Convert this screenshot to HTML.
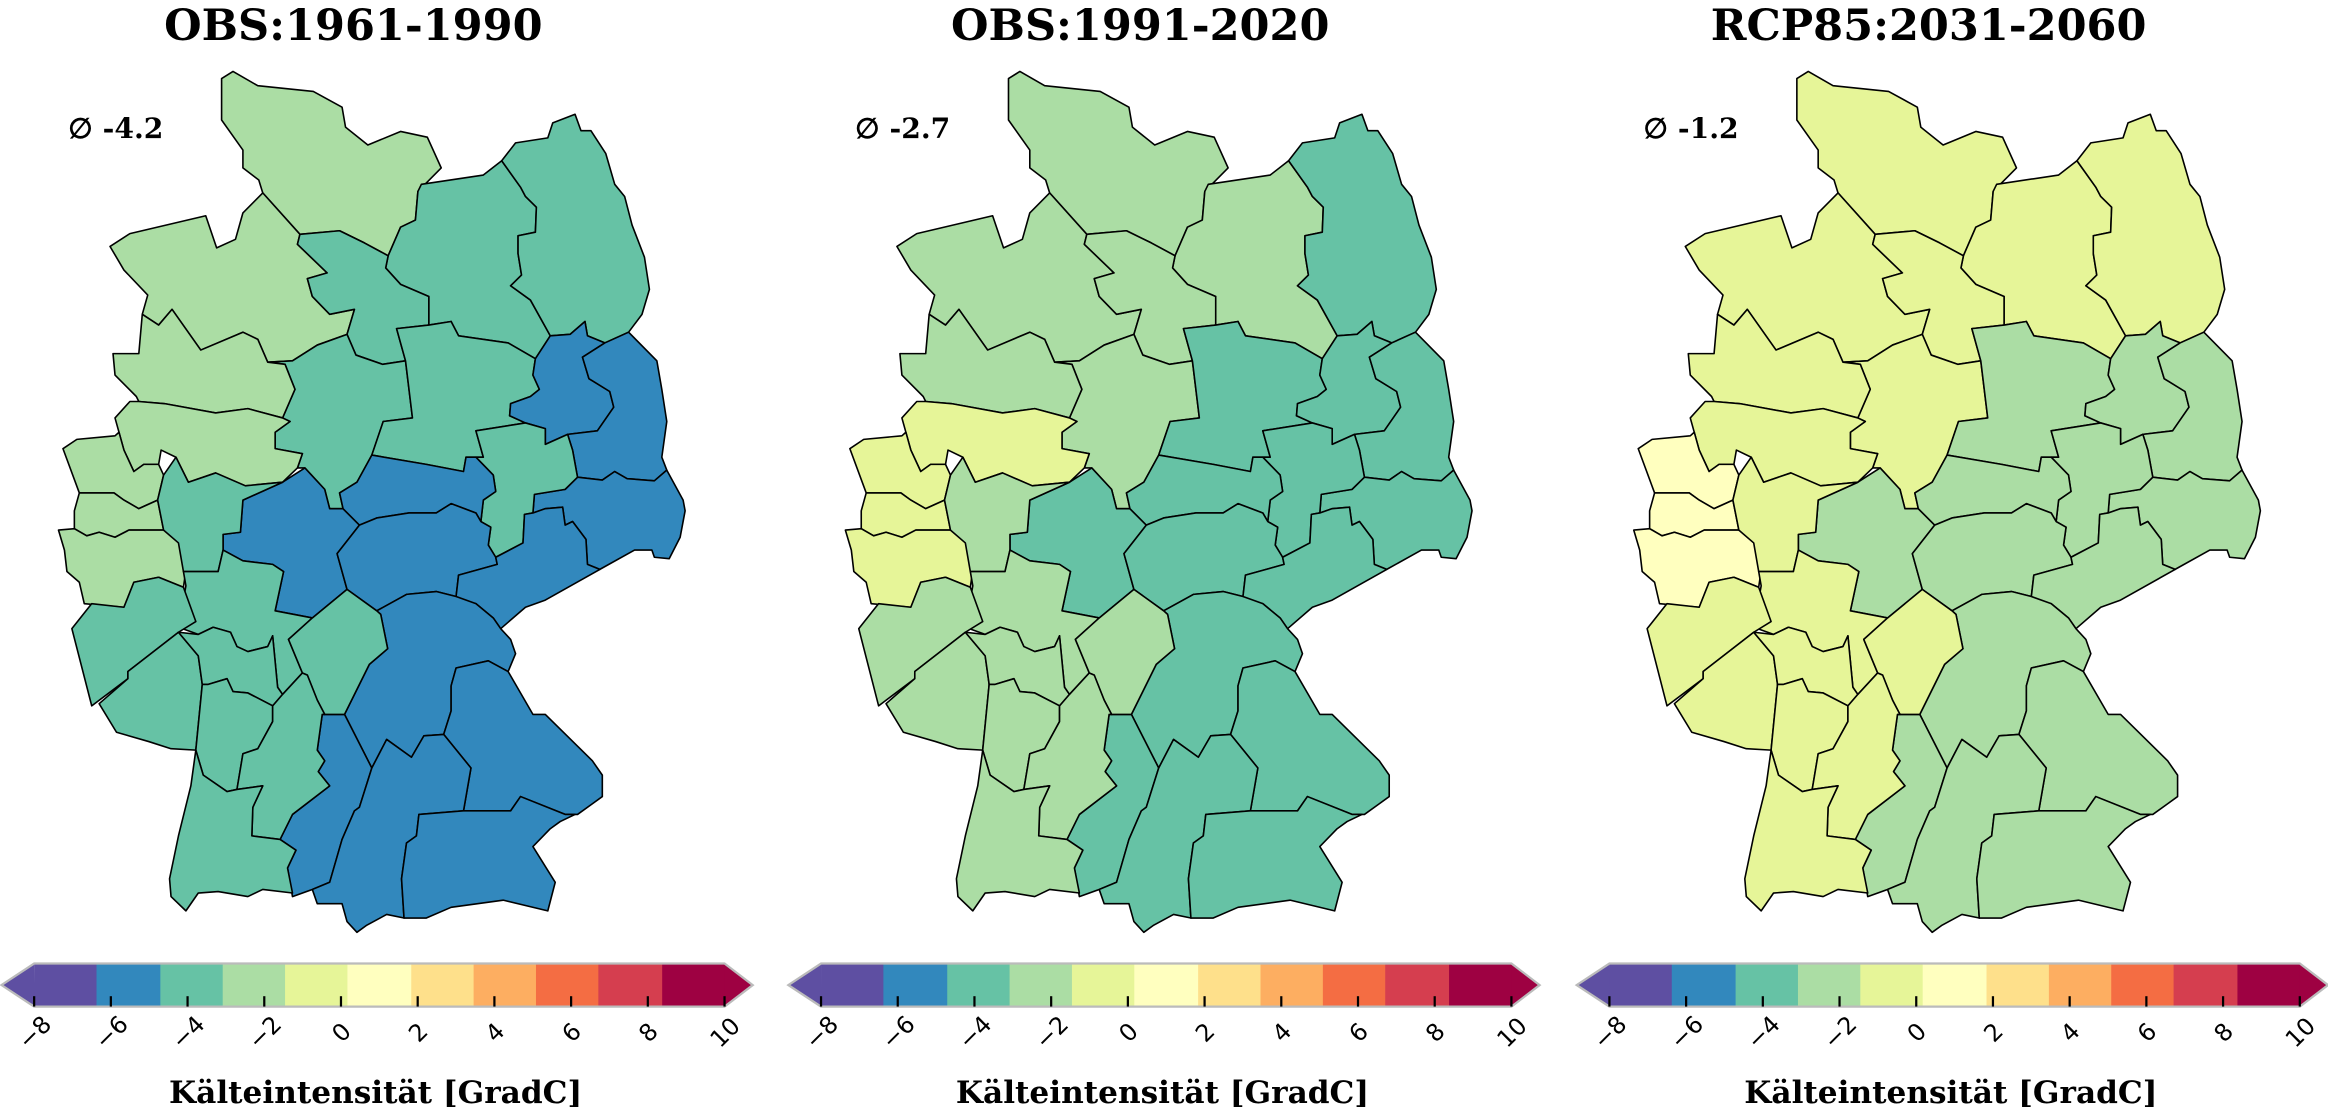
<!DOCTYPE html>
<html><head><meta charset="utf-8"><style>
html,body{margin:0;padding:0;background:#fff;}
svg{display:block;}
text{font-family:"DejaVu Serif","Liberation Serif",serif;font-weight:bold;fill:#000;}
.r{stroke:#000;stroke-width:1.6;vector-effect:non-scaling-stroke;stroke-linejoin:round;}
</style></head><body>
<svg width="2328" height="1112" viewBox="0 0 1568 749" preserveAspectRatio="none" xmlns="http://www.w3.org/2000/svg">
<g id="maps"></g>
</svg>
<script>
var R={
R1:"447,110 470,100 520,120 632,128 690,150 697,178 742,203 808,184 862,192 890,235 843,268 838,308 808,318 783,358 735,340 685,323 605,328 530,270 522,252 490,235 490,210 447,168",
R2:"222,345 262,327 415,302 437,347 475,335 490,298 530,270 605,328 600,342 660,382 620,390 630,415 665,440 715,433 700,468 640,483 590,505 540,507 520,475 490,465 405,490 347,433 320,455 287,440 298,413 250,378",
R3:"843,268 850,258 975,245 1012,225 1050,262 1060,275 1082,290 1080,325 1045,330 1045,355 1052,385 1030,400 1070,420 1110,470 1080,502 1025,480 925,470 910,450 865,455 865,415 808,398 778,375 783,358 808,318 838,308",
R4:"1012,225 1040,200 1105,193 1115,172 1160,160 1172,183 1192,183 1222,215 1240,258 1260,275 1275,315 1300,360 1310,405 1295,440 1268,465 1220,480 1185,470 1180,450 1150,468 1110,470 1070,420 1030,400 1052,385 1045,355 1045,330 1080,325 1082,290 1060,275 1050,262",
R5:"600,342 605,328 685,323 735,340 783,358 778,375 808,398 865,415 865,455 800,460 818,505 772,510 718,497 700,468 715,433 665,440 630,415 620,390 660,382",
R6:"540,507 590,505 640,483 700,468 718,497 772,510 818,505 832,585 773,590 750,637 720,675 685,690 692,712 665,712 655,685 615,655 600,655 610,635 555,628 555,605 585,590 570,585 595,545 575,510",
R7:"800,460 865,455 910,450 925,470 1025,480 1080,502 1075,525 1088,545 1070,555 1030,565 1028,582 1060,592 960,603 975,640 940,640 935,660 860,650 750,637 773,590 832,585 818,505",
R8:"1080,502 1110,470 1150,468 1180,450 1185,470 1220,480 1175,500 1188,530 1230,548 1238,570 1205,603 1145,608 1100,622 1100,600 1060,592 1028,582 1030,565 1070,555 1088,545 1075,525",
R9:"1220,480 1268,465 1325,505 1335,545 1345,590 1335,640 1345,658 1320,673 1265,670 1240,660 1215,672 1165,668 1155,630 1145,608 1205,603 1238,570 1230,548 1188,530 1175,500",
R10:"1345,658 1378,700 1382,715 1372,752 1350,782 1320,780 1315,770 1280,770 1210,797 1185,790 1182,755 1155,730 1140,735 1135,710 1100,712 1075,718 1078,692 1140,685 1165,668 1215,672 1240,660 1265,670 1320,673",
R11:"960,603 1060,592 1100,600 1100,622 1145,608 1155,630 1165,668 1140,685 1078,692 1075,718 1058,720 1055,760 1000,780 985,763 990,738 970,730 975,700 1000,688 995,665 960,640 975,640",
R12a:"490,700 570,675 615,655 655,685 665,712 692,712 725,735 680,775 700,825 630,865 555,855 572,800 550,790 490,785 450,770 450,748 485,745",
R12c:"692,712 685,690 720,675 750,637 860,650 935,660 940,640 960,640 995,665 1000,688 975,700 970,730 960,718 910,705 880,718 825,718 760,725 725,735",
R12b:"725,735 760,725 825,718 880,718 910,705 960,718 970,730 990,738 985,763 1000,780 1003,790 925,805 920,835 880,828 820,832 760,855 700,825 680,775",
R13:"1055,760 1058,720 1075,718 1100,712 1135,710 1140,735 1155,730 1182,755 1185,790 1210,797 1100,840 1060,850 1010,880 995,865 960,845 925,842 920,835 925,805 1003,790 1000,780",
R14:"760,855 820,832 880,828 920,835 960,845 995,865 1010,880 1030,895 1040,915 1025,940 985,925 920,935 910,960 910,995 895,1028 855,1030 830,1060 780,1035 750,1075 695,1000 745,930 782,908 768,860",
R15:"1025,940 1075,1000 1100,1000 1195,1065 1215,1085 1215,1115 1195,1125 1165,1140 1140,1140 1050,1115 1030,1135 935,1135 950,1075 895,1028 910,995 910,960 920,935 985,925",
R16:"695,1000 750,1075 725,1130 715,1135 690,1175 665,1235 630,1245 590,1255 580,1215 597,1190 565,1175 590,1140 665,1100 642,1080 655,1065 640,1050 650,1000",
R17:"750,1075 780,1035 830,1060 855,1030 895,1028 950,1075 935,1135 845,1140 840,1170 820,1180 810,1230 815,1285 780,1280 740,1295 720,1305 700,1290 690,1265 640,1265 630,1245 665,1235 690,1175 715,1135 725,1130",
R18:"845,1140 935,1135 1030,1135 1050,1115 1140,1140 1160,1140 1130,1150 1110,1160 1075,1185 1120,1235 1105,1275 1015,1260 910,1270 860,1285 815,1285 810,1230 820,1180 840,1170",
R19:"228,495 280,495 287,440 320,455 347,433 405,490 490,465 520,475 540,507 575,510 595,545 570,585 500,572 435,578 332,565 280,562 275,555 232,525",
R20:"232,585 262,562 280,562 332,565 435,578 500,572 570,585 585,590 555,605 555,628 610,635 600,655 570,675 495,680 435,662 380,675 355,640 325,630 320,650 290,650 270,660 250,630 240,605",
R21:"127,628 155,615 232,610 240,605 250,630 270,660 290,650 320,650 330,665 318,700 280,712 250,700 230,690 160,690",
R22:"160,690 230,690 250,700 280,712 318,700 330,742 260,742 232,752 200,745 175,750 150,740 150,715",
R23:"118,742 150,740 175,750 200,745 232,752 260,742 330,742 360,745 380,775 370,822 320,808 270,815 250,850 170,845 160,815 135,800 130,770",
R24:"330,665 355,640 380,675 435,662 495,680 570,675 490,700 485,745 450,748 450,770 440,800 370,800 360,760 330,742 318,700",
R25:"375,820 370,800 440,800 450,770 490,785 550,790 572,800 555,855 630,865 582,895 610,942 570,972 560,962 550,890 540,905 500,912 478,905 465,885 430,878 400,888 360,878",
R26:"145,880 185,845 250,850 270,815 320,808 370,822 395,870 360,885 258,940 258,950 185,988",
R27:"200,985 258,950 258,940 360,885 400,918 408,958 395,1050 345,1048 300,1038 235,1025",
R28:"360,885 400,888 430,878 465,885 478,905 500,912 540,905 550,890 560,962 570,972 550,988 500,970 470,968 458,950 420,958 408,958 400,918",
R29:"582,895 630,865 700,825 760,855 768,860 782,908 745,930 695,1000 655,1000 640,980 620,945 610,942",
R30:"408,958 420,958 458,950 470,968 500,970 550,988 550,1010 520,1048 490,1055 478,1105 458,1108 410,1085 395,1050",
R31:"550,988 570,972 610,942 620,945 640,980 655,1000 650,1000 640,1050 655,1065 642,1080 665,1100 590,1140 565,1175 508,1170 510,1130 530,1100 478,1105 490,1055 520,1048 550,1010",
R32:"410,1085 458,1108 478,1105 530,1100 510,1130 508,1170 565,1175 597,1190 580,1215 590,1250 530,1245 500,1255 440,1248 400,1250 375,1275 345,1255 342,1230 360,1170 385,1100 395,1050"
};
var C=["#5e4fa2","#3288bd","#66c2a5","#abdda4","#e6f598","#ffffbf","#fee08b","#fdae61","#f46d43","#d53e4f","#9e0142"];
var keys=["R1","R2","R3","R4","R5","R6","R7","R8","R9","R10","R11","R12a","R12c","R12b","R13","R14","R15","R16","R17","R18","R19","R20","R21","R22","R23","R24","R25","R26","R27","R28","R29","R30","R31","R32"];
var P=[
[3,3,2,2,2,2,2,1,1,1,2,1,1,1,1,1,1,1,1,1,3,3,3,3,3,2,2,2,2,2,2,2,2,2],
[3,3,3,2,3,3,2,2,2,2,2,2,2,2,2,2,2,2,2,2,3,4,4,4,4,3,3,3,3,3,3,3,3,3],
[4,4,4,4,4,4,3,3,3,3,3,3,3,3,3,3,3,3,3,3,4,4,5,5,5,4,4,4,4,4,4,4,4,4]];
var titles=["OBS:1961-1990","OBS:1991-2020","RCP85:2031-2060"];
var avg=["-4.2","-2.7","-1.2"];
var offs=[0,530,1061];
var s="";
for(var p=0;p<3;p++){
 var o=offs[p];
 s+='<text x="'+(238+o)+'" y="27" font-size="29" text-anchor="middle">'+titles[p]+'</text>';
 s+='<text x="'+(46+o)+'" y="93" font-size="19">∅ '+avg[p]+'</text>';
 s+='<g transform="translate('+o+',0) scale(0.3339,0.4812)">';
 for(var i=0;i<keys.length;i++) s+='<polygon class="r" fill="'+C[P[p][i]]+'" points="'+R[keys[i]]+'"/>';
 s+='</g>';
 var x0=23+o,x1=488+o,y0=649,y1=678,ym=663.5;
 var b=[x0,65,108,150,192,234,277,319,361,403,446,x1];
 for(var k=0;k<11;k++){
  var L=(k==0)?x0:b[k]+o, Rr=(k==10)?x1:b[k+1]+o;
  s+='<rect x="'+L+'" y="'+y0+'" width="'+(Rr-L+0.5)+'" height="'+(y1-y0)+'" fill="'+C[k]+'"/>';
 }
 s+='<polygon points="'+(o+1)+','+ym+' '+x0+','+y0+' '+(x0+0.5)+','+y1+'" fill="'+C[0]+'"/>';
 s+='<polygon points="'+(o+507)+','+ym+' '+x1+','+y0+' '+x1+','+y1+'" fill="'+C[10]+'"/>';
 s+='<polygon points="'+(o+1)+','+ym+' '+x0+','+y0+' '+x1+','+y0+' '+(o+507)+','+ym+' '+x1+','+y1+' '+x0+','+y1+'" fill="none" stroke="#bbb" stroke-width="1.5"/>';
 var lab=["−8","−6","−4","−2","0","2","4","6","8","10"];
 for(var t=0;t<10;t++){
  var tx=x0+t*(x1-x0)/9;
  s+='<line x1="'+tx+'" y1="'+(y1-7)+'" x2="'+tx+'" y2="'+y1+'" stroke="#000" stroke-width="1.5"/>';
  s+='<text x="'+tx+'" y="701" font-size="16" style="font-family:\'DejaVu Sans\',sans-serif;font-weight:normal" text-anchor="middle" transform="rotate(-45 '+tx+' 695)">'+lab[t]+'</text>';
 }
 s+='<text x="'+(253+o)+'" y="743" font-size="21" text-anchor="middle">Kälteintensität [GradC]</text>';
}
document.getElementById("maps").innerHTML=s;
</script>
</body></html>
